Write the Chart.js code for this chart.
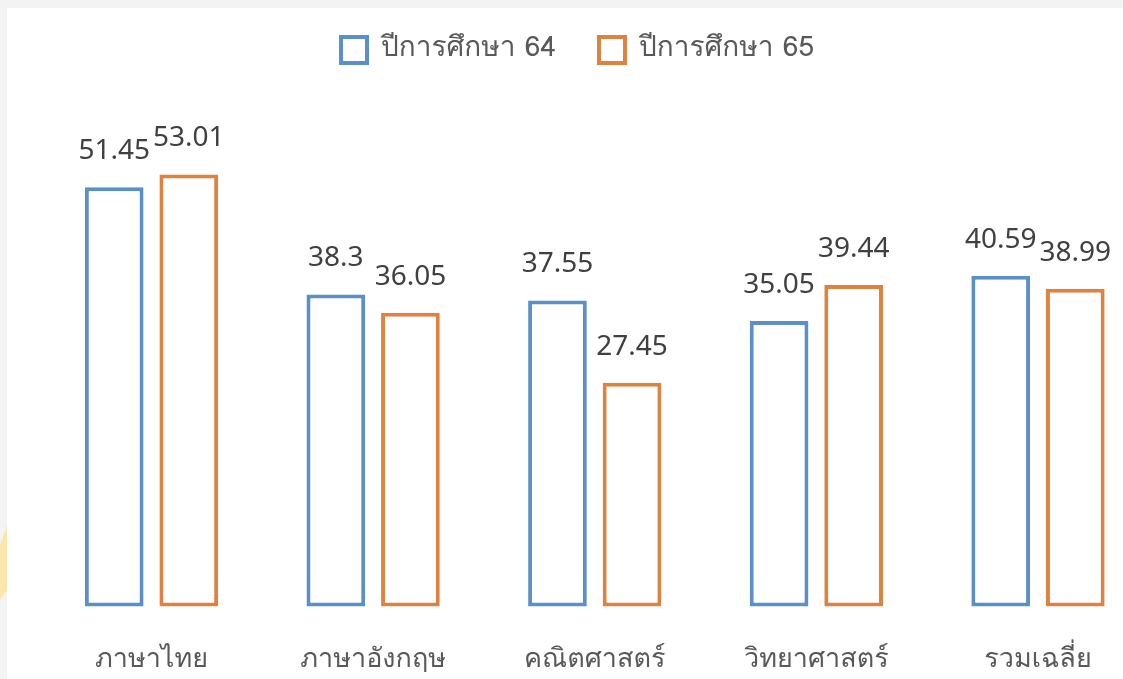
<!DOCTYPE html>
<html>
<head>
<meta charset="utf-8">
<script src="https://cdn.jsdelivr.net/npm/chart.js@4/dist/chart.umd.min.js"></script>
<style>
  html, body { margin: 0; padding: 0; background: #ffffff; }
  #wrap { width: 1123px; height: 679px; position: relative; }
  canvas { display: block; }
</style>
</head>
<body>
<div id="wrap"><canvas id="c" width="1123" height="679"></canvas></div>
<script>
const categories = ['ภาษาไทย', 'ภาษาอังกฤษ', 'คณิตศาสตร์', 'วิทยาศาสตร์', 'รวมเฉลี่ย'];
const seriesNames = ['ปีการศึกษา 64', 'ปีการศึกษา 65'];
const year64 = [51.45, 38.3, 37.55, 35.05, 40.59];
const year65 = [53.01, 36.05, 27.45, 39.44, 38.99];

const FONT = "Loma, 'Noto Sans Thai Looped', 'Noto Sans Thai', 'Noto Sans', sans-serif";
const NUMFONT = "'Noto Sans', 'Open Sans', sans-serif";
const BLUE = '#5b8fc8';
const ORANGE = '#e0823f';

const framePlugin = {
  id: 'frame',
  beforeDraw(chart) {
    const ctx = chart.ctx;
    ctx.save();
    ctx.fillStyle = '#f3f3f3';
    ctx.fillRect(0, 0, chart.width, chart.height);
    ctx.fillStyle = '#fbe6ad';
    ctx.beginPath();
    ctx.moveTo(0, 545); ctx.lineTo(7, 525); ctx.lineTo(7, 590); ctx.lineTo(0, 600);
    ctx.closePath(); ctx.fill();
    ctx.fillStyle = '#ffffff';
    ctx.fillRect(7, 8, chart.width - 7, chart.height - 8);
    ctx.restore();
  }
};

const valueLabels = {
  id: 'valueLabels',
  afterDatasetsDraw(chart) {
    const ctx = chart.ctx;
    ctx.save();
    ctx.font = "28px " + NUMFONT;
    ctx.fillStyle = '#404040';
    ctx.textAlign = 'center';
    ctx.textBaseline = 'middle';
    chart.data.datasets.forEach((ds, di) => {
      const meta = chart.getDatasetMeta(di);
      meta.data.forEach((el, i) => {
        ctx.fillText(String(ds.data[i]), el.x, el.y - 36);
      });
    });
    ctx.restore();
  }
};

new Chart(document.getElementById('c'), {
  type: 'bar',
  data: {
    labels: categories,
    datasets: [
      { label: seriesNames[0], data: year64, backgroundColor: '#ffffff', borderColor: BLUE, borderWidth: 4, borderSkipped: false },
      { label: seriesNames[1], data: year65, backgroundColor: '#ffffff', borderColor: ORANGE, borderWidth: 4, borderSkipped: false }
    ]
  },
  options: {
    responsive: false,
    animation: false,
    devicePixelRatio: 1,
    datasets: { bar: { categoryPercentage: 0.673, barPercentage: 0.787, clip: false } },
    layout: { padding: { left: 117, right: 85, top: -7, bottom: -36 } },
    plugins: {
      legend: {
        display: true,
        position: 'top',
        labels: {
          font: { family: FONT, size: 28 },
          color: '#595959',
          boxWidth: 26,
          boxHeight: 26,
          padding: 43
        }
      },
      tooltip: { enabled: false }
    },
    scales: {
      x: {
        offset: false,
        grid: { display: false, drawTicks: false },
        border: { display: false },
        ticks: { font: { family: FONT, size: 27 }, color: '#595959', padding: 38, maxRotation: 0, autoSkip: false },
        afterFit(scale) { scale.paddingLeft = 0; scale.paddingRight = 0; }
      },
      y: {
        display: true,
        min: 0,
        max: 65.34,
        grid: { display: false, drawTicks: false },
        border: { display: false },
        ticks: { display: false },
        afterFit(scale) { scale.width = 34.5; }
      }
    }
  },
  plugins: [framePlugin, valueLabels]
});
</script>
</body>
</html>
